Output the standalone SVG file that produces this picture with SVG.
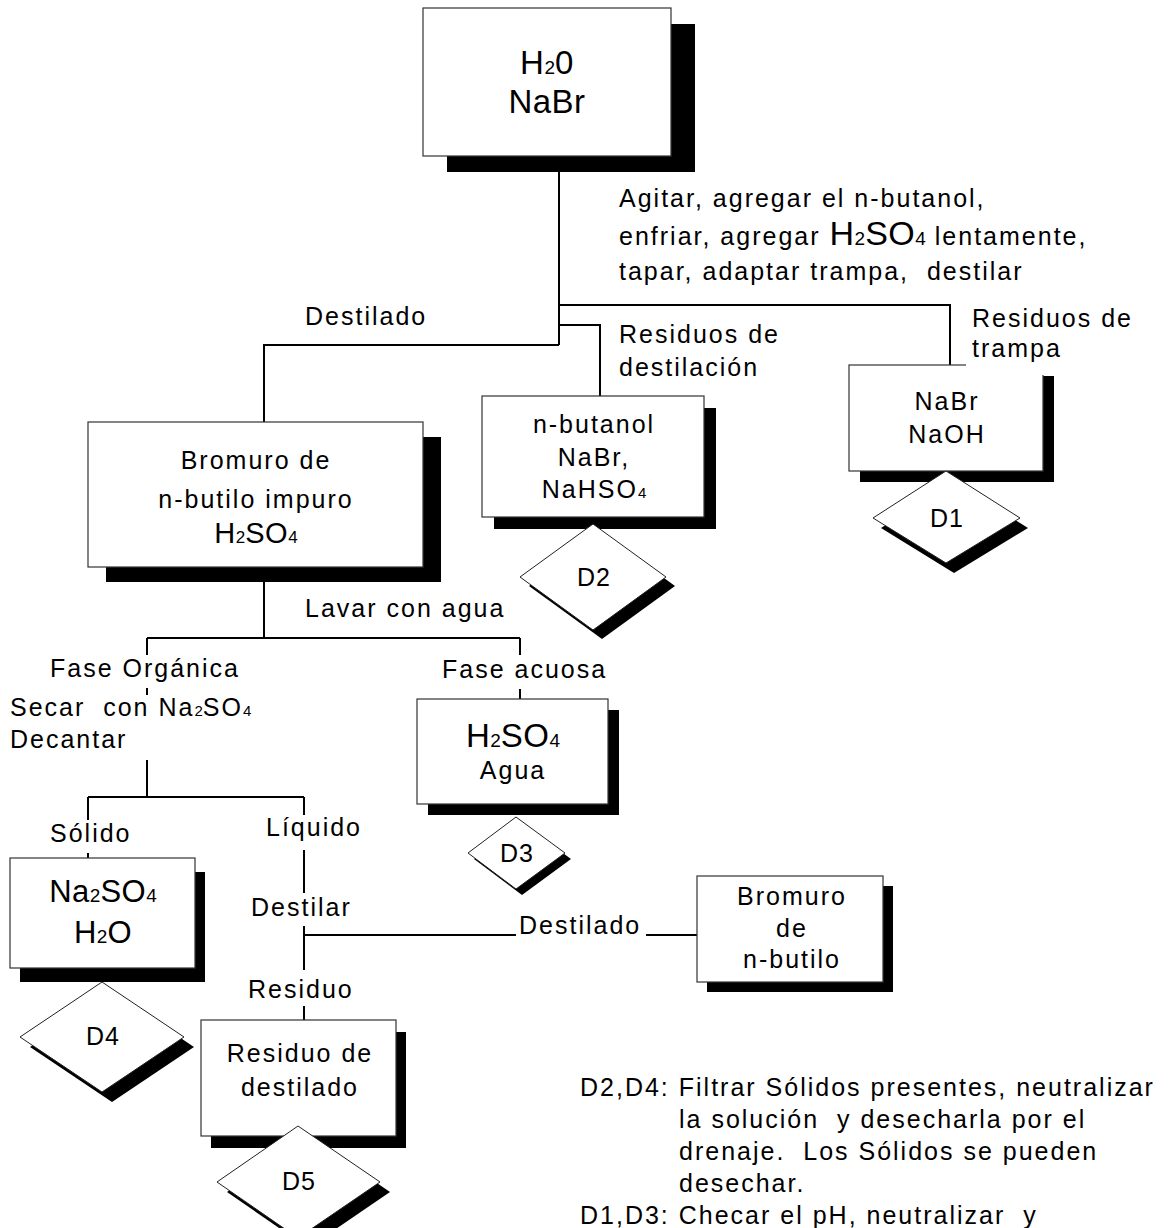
<svg xmlns="http://www.w3.org/2000/svg" width="1173" height="1228" viewBox="0 0 1173 1228" xml:space="preserve">
<defs>
<style>
.bg{fill:#fff}
.box{fill:#fff;stroke:#333;stroke-width:1.2}
.sh{fill:#000}
.dia{fill:#fff;stroke:#222;stroke-width:1}
.ln{fill:none;stroke:#000;stroke-width:2}
.t{font-family:"Liberation Sans",Arial,sans-serif;font-size:25px;letter-spacing:2px;fill:#000;white-space:pre}
.c{text-anchor:middle}
.big{font-size:33px;letter-spacing:0.5px}
.s{font-size:19px;letter-spacing:0}
.s2{font-size:15px;letter-spacing:0}
.d{letter-spacing:1px}
</style>
</defs>
<rect width="1173" height="1228" fill="#fff"/>
<g id="connectors">
<path class="ln" d="M559,172 V345"/>
<path class="ln" d="M559,305 H950 V365"/>
<path class="ln" d="M559,325 H600 V396"/>
<path class="ln" d="M559,345 H264 V422"/>
<path class="ln" d="M264,582 V638"/>
<path class="ln" d="M147,638 H520"/>
<path class="ln" d="M147,638 V655 M147,688 V695 M147,760 V797"/>
<path class="ln" d="M88,797 H304"/>
<path class="ln" d="M88,797 V820 M88,853 V858"/>
<path class="ln" d="M304,797 V815 M304,850 V893 M304,926 V970 M304,1006 V1020"/>
<path class="ln" d="M304,935 H516 M646,935 H697"/>
<path class="ln" d="M520,638 V655 M520,689 V699"/>
</g>
<g id="n_top">
<rect class="sh" x="447" y="24" width="248" height="148"/>
<rect class="box" x="423" y="8" width="248" height="148"/>
<text class="t c big" x="547" y="74">H<tspan class="s">2</tspan>0</text>
<text class="t c big" x="547" y="113">NaBr</text>
</g>
<g id="lbl_agitar">
<text class="t" x="619" y="207">Agitar, agregar el n-butanol,</text>
<text class="t" x="619" y="245">enfriar, agregar <tspan class="big" style="font-size:34px">H</tspan><tspan class="s">2</tspan><tspan class="big" style="font-size:34px">SO</tspan><tspan class="s">4</tspan> lentamente,</text>
<text class="t" x="619" y="280">tapar, adaptar trampa,  destilar</text>
</g>
<g id="lbl_destilado1"><text class="t" x="305" y="325">Destilado</text></g>
<g id="lbl_resdest"><text class="t" x="619" y="343">Residuos de</text><text class="t" x="619" y="376">destilación</text></g>
<g id="n_bromuro_impuro">
<rect class="sh" x="106" y="437" width="335" height="145"/>
<rect class="box" x="88" y="422" width="335" height="145"/>
<text class="t c" x="256" y="469">Bromuro de</text>
<text class="t c" x="256" y="508">n-butilo impuro</text>
<text class="t c big" x="256" y="543" style="font-size:29px">H<tspan class="s" style="font-size:17px">2</tspan>SO<tspan class="s" style="font-size:17px">4</tspan></text>
</g>
<g id="n_butanol">
<rect class="sh" x="494" y="408" width="222" height="121"/>
<rect class="box" x="482" y="396" width="222" height="121"/>
<text class="t c" x="594" y="433">n-butanol</text>
<text class="t c" x="594" y="466">NaBr,</text>
<text class="t c" x="594" y="498">NaHSO<tspan class="s2">4</tspan></text>
</g>
<g id="d2">
<polygon class="sh" points="602,533 675,586 602,639 529,586"/>
<polygon class="dia" points="593,524 666,577 593,630 520,577"/>
<text class="t c d" x="594" y="586">D2</text>
</g>
<g id="n_nabr_naoh">
<rect class="sh" x="860" y="376" width="194" height="106"/>
<rect class="box" x="849" y="365" width="194" height="106"/>
<text class="t c" x="947" y="410">NaBr</text>
<text class="t c" x="947" y="443">NaOH</text>
</g>
<g id="lbl_trampa">
<rect class="bg" x="966" y="340" width="100" height="35"/>
<text class="t" x="972" y="327">Residuos de</text>
<text class="t" x="972" y="357">trampa</text>
</g>
<g id="d1">
<polygon class="sh" points="954,481 1028,528 954,573 881,528"/>
<polygon class="dia" points="946,471 1020,518 946,563 873,518"/>
<text class="t c d" x="947" y="527">D1</text>
</g>
<g id="lbl_lavar"><text class="t" x="305" y="617">Lavar con agua</text></g>
<g id="lbl_faseorg"><text class="t" x="50" y="677">Fase Orgánica</text></g>
<g id="lbl_secar">
<text class="t" x="10" y="716">Secar  con Na<tspan class="s2">2</tspan>SO<tspan class="s2">4</tspan></text>
<text class="t" x="10" y="748">Decantar</text>
</g>
<g id="lbl_faseac"><text class="t" x="442" y="678">Fase acuosa</text></g>
<g id="n_h2so4_agua">
<rect class="sh" x="428" y="710" width="191" height="105"/>
<rect class="box" x="417" y="699" width="191" height="105"/>
<text class="t c big" x="513" y="747">H<tspan class="s">2</tspan>SO<tspan class="s">4</tspan></text>
<text class="t c" x="513" y="779">Agua</text>
</g>
<g id="d3">
<polygon class="sh" points="522,823 571,859 522,895 474,859"/>
<polygon class="dia" points="516,817 565,853 516,889 468,853"/>
<text class="t c d" x="517" y="862">D3</text>
</g>
<g id="lbl_solido"><text class="t" x="50" y="842">Sólido</text></g>
<g id="lbl_liquido"><text class="t" x="266" y="836">Líquido</text></g>
<g id="lbl_destilar"><text class="t" x="251" y="916">Destilar</text></g>
<g id="lbl_destilado2"><text class="t" x="519" y="934">Destilado</text></g>
<g id="lbl_residuo"><text class="t" x="248" y="998">Residuo</text></g>
<g id="n_na2so4">
<rect class="sh" x="20" y="872" width="185" height="110"/>
<rect class="box" x="10" y="858" width="185" height="110"/>
<text class="t c big" x="103" y="902" style="font-size:31px">Na<tspan class="s">2</tspan>SO<tspan class="s">4</tspan></text>
<text class="t c big" x="103" y="943" style="font-size:31px">H<tspan class="s">2</tspan>O</text>
</g>
<g id="d4">
<polygon class="sh" points="112,992 194,1047 112,1102 30,1047"/>
<polygon class="dia" points="102,982 184,1037 102,1092 20,1037"/>
<text class="t c d" x="103" y="1045">D4</text>
</g>
<g id="n_bromuro_butilo">
<rect class="sh" x="707" y="886" width="186" height="106"/>
<rect class="box" x="697" y="876" width="186" height="106"/>
<text class="t c" x="792" y="905">Bromuro</text>
<text class="t c" x="792" y="937">de</text>
<text class="t c" x="792" y="968">n-butilo</text>
</g>
<g id="n_residuo">
<rect class="sh" x="211" y="1032" width="195" height="116"/>
<rect class="box" x="201" y="1020" width="195" height="116"/>
<text class="t c" x="300" y="1062">Residuo de</text>
<text class="t c" x="300" y="1096">destilado</text>
</g>
<g id="d5">
<polygon class="sh" points="308,1136 390,1192 308,1248 227,1192"/>
<polygon class="dia" points="298,1126 380,1182 298,1238 217,1182"/>
<text class="t c d" x="299" y="1190">D5</text>
</g>
<g id="notes">
<text class="t" x="580" y="1096">D2,D4: Filtrar Sólidos presentes, neutralizar</text>
<text class="t" x="679" y="1128">la solución  y desecharla por el</text>
<text class="t" x="679" y="1160">drenaje.  Los Sólidos se pueden</text>
<text class="t" x="679" y="1192">desechar.</text>
<text class="t" x="580" y="1224">D1,D3: Checar el pH, neutralizar  y</text>
</g>
</svg>
